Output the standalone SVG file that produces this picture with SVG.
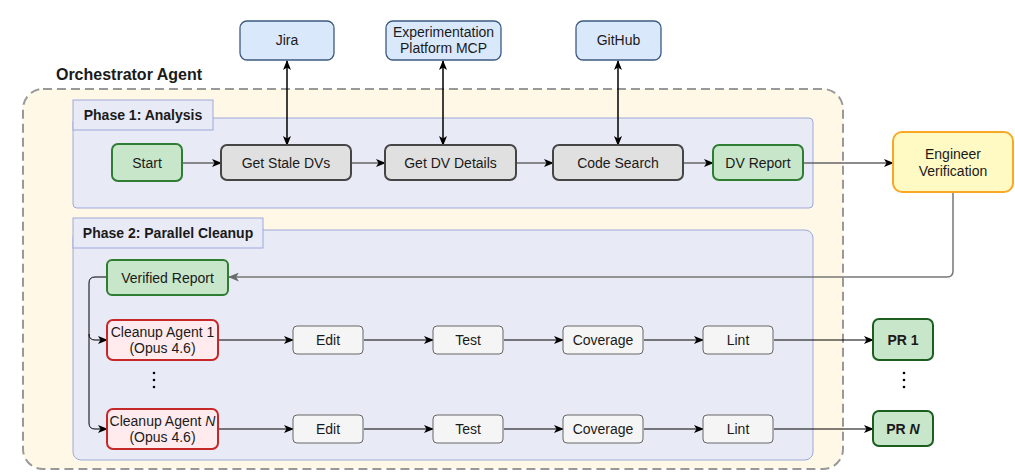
<svg xmlns="http://www.w3.org/2000/svg" width="1015" height="472" viewBox="0 0 1015 472">
<defs>
<style>
text{font-family:"Liberation Sans",Arial,Helvetica,sans-serif;font-size:14px;fill:#1a1a1a;text-anchor:middle}
.b{font-weight:bold}
.svc{fill:#dae8fc;stroke:#3d5a80;stroke-width:1.3}
.proc{fill:#e0e0e0;stroke:#454545;stroke-width:2}
.grn{fill:#c8e6c9;stroke:#2e7d32;stroke-width:2}
.pr{fill:#c8e6c9;stroke:#1b5e20;stroke-width:2}
.agent{fill:#ffebee;stroke:#c62828;stroke-width:2}
.step{fill:#f5f5f5;stroke:#666;stroke-width:1}
.eng{fill:#fff9c4;stroke:#f9a825;stroke-width:2}
.phase{fill:#e8eaf6;stroke:#9fa8da;stroke-width:1}
.c{fill:none}
</style>
<marker id="ah" viewBox="0 0 10 8" refX="9" refY="4" markerWidth="10" markerHeight="8" markerUnits="userSpaceOnUse" orient="auto-start-reverse">
<path d="M0,0 L10,4 L0,8 L2.5,4 z" fill="#000"/>
</marker>
<marker id="ahg" viewBox="0 0 10 8" refX="9" refY="4" markerWidth="11" markerHeight="9" markerUnits="userSpaceOnUse" orient="auto">
<path d="M0,0 L10,4 L0,8 L2.5,4 z" fill="#6b6b6b"/>
</marker>
</defs>

<g id="orchestrator">
<rect x="23" y="89" width="820" height="380" rx="20" fill="#fff8e6" stroke="#999" stroke-width="2" stroke-dasharray="9 5"/>
<text x="129" y="80" class="b" style="font-size:16px">Orchestrator Agent</text>
</g>

<g id="phase1">
<rect class="phase" x="73" y="118" width="740" height="90" rx="4"/>
<rect class="phase" x="73" y="100" width="140" height="30"/>
<text x="143" y="120" class="b">Phase 1: Analysis</text>
</g>

<g id="phase2">
<rect class="phase" x="73" y="230" width="740" height="230" rx="8"/>
<rect class="phase" x="73" y="218" width="190" height="30"/>
<text x="168" y="238" class="b">Phase 2: Parallel Cleanup</text>
</g>

<g id="connectors" class="c">
<g stroke="#000" stroke-width="1.5" marker-start="url(#ah)" marker-end="url(#ah)">
<line x1="287" y1="61" x2="287" y2="145"/>
<line x1="443" y1="61" x2="443" y2="145"/>
<line x1="618" y1="61" x2="618" y2="145"/>
</g>
<g stroke="#666" stroke-width="1.5" marker-end="url(#ah)">
<line x1="183" y1="163" x2="221" y2="163"/>
<line x1="352" y1="163" x2="385" y2="163"/>
<line x1="517" y1="163" x2="553" y2="163"/>
<line x1="684" y1="163" x2="713" y2="163"/>
<line x1="804" y1="163" x2="893" y2="163"/>
</g>
<path d="M953,193 V271 Q953,277 947,277 H229" stroke="#777" stroke-width="1.5" marker-end="url(#ahg)"/>
<g stroke="#000" stroke-width="1" marker-end="url(#ah)">
<path d="M107,277 H95 Q89,277 89,283 V334 Q89,340 95,340 H107"/>
<path d="M89,334 V423 Q89,429 95,429 H107"/>
<line x1="219" y1="340" x2="293" y2="340"/>
<line x1="364" y1="340" x2="433" y2="340"/>
<line x1="504" y1="340" x2="563" y2="340"/>
<line x1="644" y1="340" x2="703" y2="340"/>
<line x1="774" y1="340" x2="873" y2="340"/>
<line x1="219" y1="429" x2="293" y2="429"/>
<line x1="364" y1="429" x2="433" y2="429"/>
<line x1="504" y1="429" x2="563" y2="429"/>
<line x1="644" y1="429" x2="703" y2="429"/>
<line x1="774" y1="429" x2="873" y2="429"/>
</g>
</g>

<g id="jira"><rect class="svc" x="240" y="21" width="94" height="39" rx="7"/><text x="287" y="45">Jira</text></g>
<g id="exp"><rect class="svc" x="386" y="21" width="115" height="39" rx="7"/><text x="443.5" y="37">Experimentation</text><text x="443.5" y="53">Platform MCP</text></g>
<g id="github"><rect class="svc" x="576" y="21" width="85" height="39" rx="7"/><text x="618.5" y="45">GitHub</text></g>

<g id="start"><rect class="grn" x="112" y="144" width="70" height="37" rx="6"/><text x="147" y="168">Start</text></g>
<g id="stale"><rect class="proc" x="221" y="145" width="130" height="35" rx="6"/><text x="286" y="168">Get Stale DVs</text></g>
<g id="details"><rect class="proc" x="385" y="145" width="131" height="35" rx="6"/><text x="450.5" y="168">Get DV Details</text></g>
<g id="code"><rect class="proc" x="553" y="145" width="130" height="35" rx="6"/><text x="618" y="168">Code Search</text></g>
<g id="dvreport"><rect class="grn" x="713" y="145" width="90" height="35" rx="6"/><text x="758" y="168">DV Report</text></g>
<g id="engineer"><rect class="eng" x="893" y="132" width="120" height="60" rx="9"/><text x="953" y="159">Engineer</text><text x="953" y="176">Verification</text></g>

<g id="verified"><rect class="grn" x="107" y="260" width="121" height="35" rx="5"/><text x="167.5" y="283">Verified Report</text></g>

<g id="agent1"><rect class="agent" x="107" y="320" width="111" height="40" rx="6"/><text x="162.5" y="337">Cleanup Agent 1</text><text x="162.5" y="353">(Opus 4.6)</text></g>
<g id="agentN"><rect class="agent" x="107" y="409" width="111" height="40" rx="6"/><text x="162.5" y="426">Cleanup Agent <tspan font-style="italic">N</tspan></text><text x="162.5" y="442">(Opus 4.6)</text></g>

<g id="dots1"><circle cx="154" cy="373" r="1.3" fill="#000"/><circle cx="154" cy="380" r="1.3" fill="#000"/><circle cx="154" cy="387" r="1.3" fill="#000"/></g>

<g id="edit1"><rect class="step" x="293" y="326" width="70" height="28" rx="4"/><text x="328" y="345">Edit</text></g>
<g id="test1"><rect class="step" x="433" y="326" width="70" height="28" rx="4"/><text x="468" y="345">Test</text></g>
<g id="cov1"><rect class="step" x="563" y="326" width="80" height="28" rx="4"/><text x="603" y="345">Coverage</text></g>
<g id="lint1"><rect class="step" x="703" y="326" width="70" height="28" rx="4"/><text x="738" y="345">Lint</text></g>

<g id="editN"><rect class="step" x="293" y="415" width="70" height="28" rx="4"/><text x="328" y="434">Edit</text></g>
<g id="testN"><rect class="step" x="433" y="415" width="70" height="28" rx="4"/><text x="468" y="434">Test</text></g>
<g id="covN"><rect class="step" x="563" y="415" width="80" height="28" rx="4"/><text x="603" y="434">Coverage</text></g>
<g id="lintN"><rect class="step" x="703" y="415" width="70" height="28" rx="4"/><text x="738" y="434">Lint</text></g>

<g id="pr1"><rect class="pr" x="873" y="319" width="60" height="41" rx="6"/><text x="903" y="345" class="b">PR 1</text></g>
<g id="prN"><rect class="pr" x="873" y="411" width="60" height="35" rx="6"/><text x="903" y="434" class="b">PR <tspan font-style="italic">N</tspan></text></g>
<g id="dots2"><circle cx="904" cy="373" r="1.3" fill="#000"/><circle cx="904" cy="380" r="1.3" fill="#000"/><circle cx="904" cy="387" r="1.3" fill="#000"/></g>
</svg>
